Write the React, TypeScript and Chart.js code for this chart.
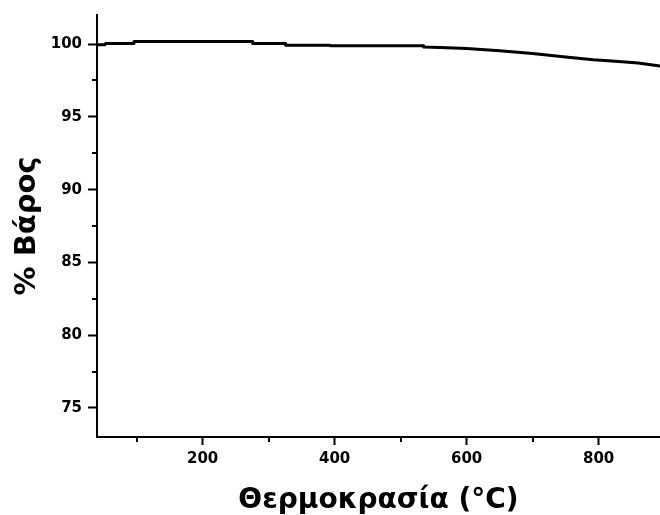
import React, { useEffect, useRef } from "react";
import { Chart, registerables } from "chart.js";

Chart.register(...registerables);

const temperature = [40, 52, 53, 95, 96, 275, 276, 325, 326, 393, 394, 534, 535, 560, 600, 650, 700, 750, 792, 820, 860, 893];
const weight = [99.95, 99.95, 100.04, 100.04, 100.18, 100.18, 100.04, 100.04, 99.92, 99.92, 99.88, 99.88, 99.8, 99.76, 99.7, 99.55, 99.35, 99.12, 98.92, 98.84, 98.7, 98.5];

const xMajorTicks = [200, 400, 600, 800];
const xMinorTicks = [100, 300, 500, 700];
const yMajorTicks = [75, 80, 85, 90, 95, 100];
const yMinorTicks = [77.5, 82.5, 87.5, 92.5, 97.5];

const xTitle = "Θερμοκρασία (°C)";
const yTitle = "% Βάρος";

const FONT = "'DejaVu Sans', sans-serif";

export default function App() {
  const ref = useRef<HTMLCanvasElement | null>(null);

  useEffect(() => {
    if (!ref.current) return;
    const minorTicks = {
      id: "minorTicks",
      afterDraw(chart: any) {
        const ctx = chart.ctx;
        const xs = chart.scales.x;
        const ys = chart.scales.y;
        const area = chart.chartArea;
        ctx.save();
        ctx.strokeStyle = "#000";
        ctx.lineWidth = 2;
        ctx.beginPath();
        for (const v of yMinorTicks) {
          const py = Math.round(ys.getPixelForValue(v));
          ctx.moveTo(area.left - 5, py);
          ctx.lineTo(area.left, py);
        }
        for (const v of xMinorTicks) {
          const px = Math.round(xs.getPixelForValue(v));
          ctx.moveTo(px, area.bottom);
          ctx.lineTo(px, area.bottom + 5);
        }
        ctx.stroke();
        ctx.restore();
      },
    };

    const chart = new Chart(ref.current, {
      type: "line",
      data: {
        datasets: [
          {
            data: temperature.map((t, i) => ({ x: t, y: weight[i] })),
            borderColor: "#000",
            borderWidth: 3,
            borderJoinStyle: "round",
            borderCapStyle: "round",
            pointRadius: 0,
            fill: false,
            tension: 0,
          },
        ],
      },
      options: {
        animation: false,
        responsive: false,
        maintainAspectRatio: false,
        layout: { padding: { top: 14, right: 0, left: 0, bottom: 0 } },
        plugins: {
          legend: { display: false },
          tooltip: { enabled: false },
        },
        scales: {
          x: {
            type: "linear",
            min: 40,
            max: 893,
            afterBuildTicks: (scale: any) => {
              scale.ticks = xMajorTicks.map((v) => ({ value: v }));
            },
            afterFit: (scale: any) => {
              scale.height = 78;
            },
            grid: {
              display: true,
              drawOnChartArea: false,
              drawTicks: true,
              tickLength: 8,
              tickWidth: 2,
              tickColor: "#000",
            },
            border: { display: true, color: "#000", width: 2 },
            ticks: {
              color: "#000",
              padding: 5,
              maxRotation: 0,
              font: { family: FONT, size: 15, weight: "bold" },
            },
            title: {
              display: true,
              text: xTitle,
              color: "#000",
              padding: { top: 0, bottom: -3 },
              font: { family: FONT, size: 28, weight: "bold" },
            },
          },
          y: {
            type: "linear",
            min: 73,
            max: 102,
            afterBuildTicks: (scale: any) => {
              scale.ticks = yMajorTicks.map((v) => ({ value: v }));
            },
            afterFit: (scale: any) => {
              scale.width = 97;
            },
            grid: {
              display: true,
              drawOnChartArea: false,
              drawTicks: true,
              tickLength: 9,
              tickWidth: 2,
              tickColor: "#000",
            },
            border: { display: true, color: "#000", width: 2 },
            ticks: {
              color: "#000",
              padding: 6,
              font: { family: FONT, size: 15, weight: "bold" },
            },
            title: {
              display: true,
              text: yTitle,
              color: "#000",
              padding: { top: 10, bottom: 0 },
              font: { family: FONT, size: 29, weight: "bold" },
            },
          },
        },
      },
      plugins: [minorTicks],
    });
    return () => chart.destroy();
  }, []);

  return (
    <div style={{ position: "absolute", left: 0, top: 0, width: 660, height: 515, background: "#fff" }}>
      <canvas ref={ref} width={660} height={515} style={{ display: "block" }} />
    </div>
  );
}
